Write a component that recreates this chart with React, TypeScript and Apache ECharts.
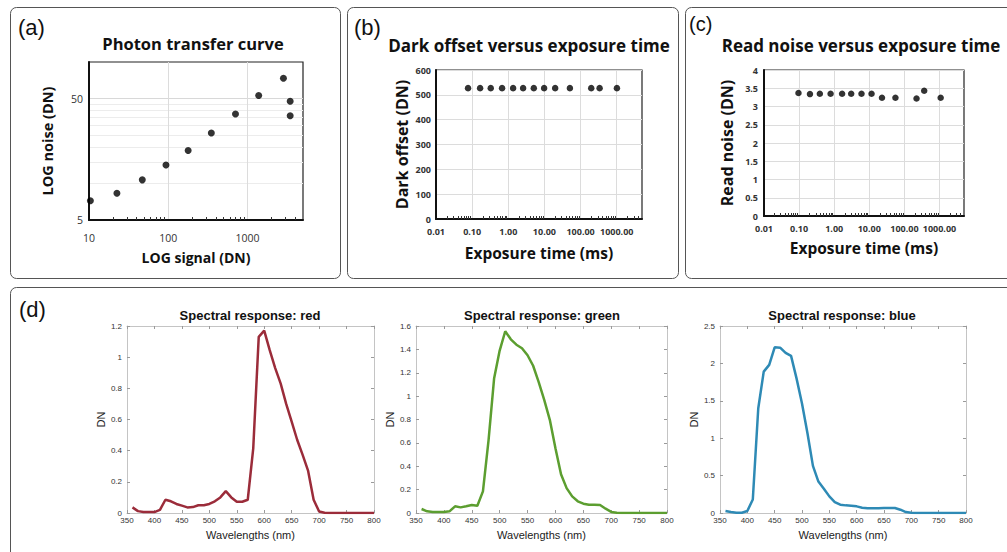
import React, { useEffect, useRef } from "react";
import * as echarts from "echarts";

// ---------- (a) Photon transfer curve ----------
const ptcSignal = [10.4, 22.5, 47, 93.5, 178, 349, 704, 1380, 2833, 3446, 3446];
const ptcNoise = [7.2, 8.3, 10.7, 14.2, 18.7, 26.0, 37.3, 52.9, 73.4, 47.5, 36.1];
const ptcXTicks = [10, 100, 1000];
const ptcYTicks = [5, 50];
const ptcYMinor = [10, 15, 20, 25, 30, 35, 40, 45];

// ---------- (b) Dark offset ----------
const darkExposure = [0.077, 0.166, 0.327, 0.673, 1.36, 2.57, 5.08, 9.8, 19.8, 50.6, 197, 336, 1012];
const darkOffset = [527, 527, 527, 527, 527, 527, 527, 527, 527, 527, 527, 527, 527];

// ---------- (c) Read noise ----------
const readExposure = [0.096, 0.204, 0.39, 0.79, 1.68, 3.05, 6.0, 11.6, 23, 55.6, 222, 367, 1082];
const readNoise = [3.37, 3.34, 3.35, 3.35, 3.35, 3.35, 3.35, 3.35, 3.24, 3.24, 3.22, 3.43, 3.24];

const expTicks = [0.01, 0.1, 1, 10, 100, 1000];

// ---------- (d) Spectral response ----------
const wavelengths = [
  360, 370, 380, 390, 400, 410, 420, 430, 440, 450, 460, 470, 480, 490, 500,
  510, 520, 530, 540, 550, 560, 570, 580, 590, 600, 610, 620, 630, 640, 650,
  660, 670, 680, 690, 700, 710, 720, 730, 740, 750, 760, 770, 780, 790, 800,
];
const redResponse = [
  0.036, 0.012, 0.006, 0.006, 0.006, 0.02, 0.085, 0.075, 0.058, 0.047, 0.036, 0.038, 0.05, 0.05, 0.058,
  0.075, 0.1, 0.14, 0.1, 0.072, 0.072, 0.085, 0.415, 1.13, 1.17, 1.045, 0.93, 0.83, 0.7, 0.586,
  0.47, 0.373, 0.27, 0.085, 0.01, 0.002, 0, 0, 0, 0, 0, 0, 0, 0, 0,
];
const greenResponse = [
  0.034, 0.014, 0.009, 0.008, 0.008, 0.014, 0.057, 0.048, 0.057, 0.068, 0.062, 0.185, 0.62, 1.15, 1.39,
  1.555, 1.486, 1.44, 1.41, 1.35, 1.26, 1.12, 0.966, 0.795, 0.554, 0.332, 0.213, 0.142, 0.1, 0.08,
  0.071, 0.071, 0.068, 0.037, 0.009, 0.003, 0, 0, 0, 0, 0, 0, 0, 0, 0,
];
const blueResponse = [
  0.027, 0.013, 0.004, 0.004, 0.027, 0.18, 1.4, 1.89, 1.98, 2.215, 2.21, 2.14, 2.1, 1.8, 1.465,
  1.066, 0.63, 0.42, 0.324, 0.222, 0.147, 0.111, 0.102, 0.098, 0.089, 0.071, 0.062, 0.062, 0.062, 0.067,
  0.067, 0.067, 0.044, 0.013, 0.004, 0, 0, 0, 0, 0, 0, 0, 0, 0, 0,
];

function minorTicks(fromExp: number, toExp: number, max: number): number[] {
  const out: number[] = [];
  for (let e = fromExp; e <= toExp; e++) {
    for (let k = 2; k <= 9; k++) {
      const v = Number((k * Math.pow(10, e)).toPrecision(6));
      if (v < max) out.push(v);
    }
  }
  return out;
}

const SANS = "'Open Sans', Roboto, sans-serif";
const ARIAL = "'Liberation Sans', Arial, sans-serif";

export default function App() {
  const ref = useRef<HTMLDivElement>(null);

  useEffect(() => {
    if (!ref.current) return;
    const chart = echarts.init(ref.current, undefined, { renderer: "svg" });

    const pair = (xs: number[], ys: number[]) => xs.map((x, i) => [x, ys[i]]);

    const boxGrid = { show: true, borderColor: "#222", borderWidth: 1.2, backgroundColor: "transparent" };

    const mainLogX = (
      gridIndex: number, min: number, max: number, ticks: number[], fmt: (v: number) => string,
      name: string, nameGap: number, nameSize: number, labelSize: number, labelMargin: number, labelWeight: string,
    ) => ({
      type: "log", logBase: 10, gridIndex, min, max, position: "bottom",
      axisLine: { show: true, onZero: false, lineStyle: { color: "#111", width: 2 } },
      axisTick: { show: false, customValues: ticks },
      axisLabel: { show: true, customValues: ticks, formatter: (v: number) => fmt(v), fontSize: labelSize, color: "#333", margin: labelMargin, fontFamily: SANS, fontWeight: labelWeight },
      splitLine: { show: true, lineStyle: { color: "#dcdcdc", width: 1 } },
      name, nameLocation: "middle", nameGap,
      nameTextStyle: { fontSize: nameSize, fontWeight: "bold", color: "#111", fontFamily: SANS },
    });
    const minorLogX = (gridIndex: number, min: number, max: number, ticks: number[]) => ({
      type: "log", logBase: 10, gridIndex, min, max, position: "bottom",
      axisLine: { show: false },
      axisTick: { show: true, inside: true, length: 3, customValues: ticks, lineStyle: { color: "#333", width: 1 } },
      axisLabel: { show: false },
      splitLine: { show: false },
    });

    const specX = (gridIndex: number, pos: string) => ({
      type: "value", gridIndex, position: pos, min: 350, max: 800, interval: 50,
      axisLine: { show: true, onZero: false, lineStyle: { color: "#c4c4c4", width: 1 } },
      axisTick: { show: true, inside: true, length: 3, lineStyle: { color: "#9a9a9a" } },
      axisLabel: pos === "bottom" ? { show: true, fontSize: 8, color: "#333", margin: 3, fontFamily: ARIAL } : { show: false },
      splitLine: { show: false },
      name: pos === "bottom" ? "Wavelengths (nm)" : "",
      nameLocation: "middle", nameGap: 16,
      nameTextStyle: { fontSize: 11, color: "#222", fontFamily: ARIAL },
    });
    const specY = (gridIndex: number, pos: string, max: number, interval: number) => ({
      type: "value", gridIndex, position: pos, min: 0, max, interval,
      axisLine: { show: true, onZero: false, lineStyle: { color: "#c4c4c4", width: 1 } },
      axisTick: { show: true, inside: true, length: 3, lineStyle: { color: "#9a9a9a" } },
      axisLabel: pos === "left" ? { show: true, fontSize: 8, color: "#333", margin: 5, fontFamily: ARIAL } : { show: false },
      splitLine: { show: false },
      name: pos === "left" ? "DN" : "",
      nameLocation: "middle", nameGap: 18,
      nameTextStyle: { fontSize: 11, color: "#222", fontFamily: ARIAL },
    });

    const fmt2 = (v: number) => v.toFixed(2);
    const fmtInt = (v: number) => String(Math.round(v));

    const panel = (x: number, y: number, w: number, h: number) => ({
      type: "rect", z: 0, silent: true,
      shape: { x, y, width: w, height: h, r: 6 },
      style: { fill: "none", stroke: "#555", lineWidth: 1 },
    });
    const label = (text: string, x: number, y: number, size: number) => ({
      type: "text", z: 10, silent: true, x, y,
      style: { text, fill: "#111", font: `${size}px ${ARIAL}`, verticalAlign: "top", align: "left" },
    });
    const title = (text: string, x: number, y: number, font: string) => ({
      type: "text", z: 10, silent: true, x, y,
      style: { text, fill: "#111", font, align: "center", verticalAlign: "middle" },
    });

    const option: any = {
      animation: false,
      backgroundColor: "#fff",
      graphic: [
        panel(10.5, 7.5, 330, 271),
        panel(347.5, 7.5, 331, 271),
        panel(685.5, 7.5, 330, 271),
        panel(10.5, 287.5, 1005, 275),
        label("(a)", 18, 16, 22),
        label("(b)", 354, 16, 22),
        label("(c)", 689, 14, 20),
        label("(d)", 19, 298, 22),
        title("Photon transfer curve", 193, 43, `bold 16.5px ${SANS}`),
        title("Dark offset versus exposure time", 529, 45, `bold 17px ${SANS}`),
        title("Read noise versus exposure time", 861, 45, `bold 17px ${SANS}`),
        title("Spectral response: red", 250, 315, `bold 13px ${ARIAL}`),
        title("Spectral response: green", 542, 315, `bold 13px ${ARIAL}`),
        title("Spectral response: blue", 842, 315, `bold 13px ${ARIAL}`),
      ],
      grid: [
        { left: 89, top: 62, width: 214, height: 158, ...boxGrid },
        { left: 436, top: 70, width: 206, height: 149, ...boxGrid },
        { left: 764, top: 70, width: 200, height: 146, ...boxGrid },
        { left: 127, top: 326, width: 247, height: 187 },
        { left: 416, top: 326, width: 251, height: 187 },
        { left: 720, top: 326, width: 246, height: 187 },
      ],
      xAxis: [
        mainLogX(0, 10, 5000, ptcXTicks, fmtInt, "LOG signal (DN)", 30, 14, 10.5, 12, "normal"),
        minorLogX(0, 10, 5000, minorTicks(1, 3, 5000)),
        mainLogX(1, 0.01, 5000, expTicks, fmt2, "Exposure time (ms)", 26, 15.5, 9, 8, "bold"),
        minorLogX(1, 0.01, 5000, minorTicks(-2, 3, 5000)),
        mainLogX(2, 0.01, 5000, expTicks, fmt2, "Exposure time (ms)", 24, 15.5, 9, 8, "bold"),
        minorLogX(2, 0.01, 5000, minorTicks(-2, 3, 5000)),
        specX(3, "bottom"),
        specX(3, "top"),
        specX(4, "bottom"),
        specX(4, "top"),
        specX(5, "bottom"),
        specX(5, "top"),
      ],
      yAxis: [
        {
          type: "log", logBase: 10, gridIndex: 0, min: 5, max: 100,
          axisLine: { show: true, onZero: false, lineStyle: { color: "#111", width: 2 } },
          axisTick: { show: false, customValues: ptcYTicks },
          axisLabel: { show: true, customValues: ptcYTicks, formatter: (v: number) => fmtInt(v), fontSize: 10.5, color: "#333", margin: 6, fontFamily: SANS },
          splitLine: { show: true, lineStyle: { color: "#d8d8d8" } },
          name: "LOG noise (DN)", nameLocation: "middle", nameGap: 34,
          nameTextStyle: { fontSize: 14.5, fontWeight: "bold", color: "#111", fontFamily: SANS },
        },
        {
          type: "log", logBase: 10, gridIndex: 0, min: 5, max: 100,
          axisLine: { show: false },
          axisTick: { show: false, customValues: ptcYMinor },
          axisLabel: { show: false },
          splitLine: { show: true, lineStyle: { color: "#ececec" } },
        },
        {
          type: "value", gridIndex: 1, min: 0, max: 600, interval: 100,
          axisLine: { show: true, onZero: false, lineStyle: { color: "#111", width: 2 } },
          axisTick: { show: false },
          axisLabel: { fontSize: 9, color: "#333", margin: 5, fontFamily: SANS, fontWeight: "bold" },
          splitLine: { show: true, lineStyle: { color: "#dcdcdc" } },
          name: "Dark offset (DN)", nameLocation: "middle", nameGap: 26,
          nameTextStyle: { fontSize: 16, fontWeight: "bold", color: "#111", fontFamily: SANS },
        },
        {
          type: "value", gridIndex: 2, min: 0, max: 4, interval: 0.5,
          axisLine: { show: true, onZero: false, lineStyle: { color: "#111", width: 2 } },
          axisTick: { show: false },
          axisLabel: { fontSize: 9, color: "#333", margin: 6, fontFamily: SANS, fontWeight: "bold" },
          splitLine: { show: true, lineStyle: { color: "#dcdcdc" } },
          name: "Read noise (DN)", nameLocation: "middle", nameGap: 29,
          nameTextStyle: { fontSize: 16, fontWeight: "bold", color: "#111", fontFamily: SANS },
        },
        specY(3, "left", 1.2, 0.2),
        specY(3, "right", 1.2, 0.2),
        specY(4, "left", 1.6, 0.2),
        specY(4, "right", 1.6, 0.2),
        specY(5, "left", 2.5, 0.5),
        specY(5, "right", 2.5, 0.5),
      ],
      series: [
        {
          type: "scatter", xAxisIndex: 0, yAxisIndex: 0, data: pair(ptcSignal, ptcNoise),
          symbol: "circle", symbolSize: 7, itemStyle: { color: "#000" }, silent: true,
        },
        {
          type: "scatter", xAxisIndex: 2, yAxisIndex: 2, data: pair(darkExposure, darkOffset),
          symbol: "circle", symbolSize: 6.5, itemStyle: { color: "#000" }, silent: true,
        },
        {
          type: "scatter", xAxisIndex: 4, yAxisIndex: 3, data: pair(readExposure, readNoise),
          symbol: "circle", symbolSize: 6.5, itemStyle: { color: "#000" }, silent: true,
        },
        {
          type: "line", xAxisIndex: 6, yAxisIndex: 4, data: pair(wavelengths, redResponse),
          showSymbol: false, symbol: "none", lineStyle: { color: "#9b2c3a", width: 2.5 }, silent: true,
        },
        {
          type: "line", xAxisIndex: 8, yAxisIndex: 6, data: pair(wavelengths, greenResponse),
          showSymbol: false, symbol: "none", lineStyle: { color: "#5c9e30", width: 2.5 }, silent: true,
        },
        {
          type: "line", xAxisIndex: 10, yAxisIndex: 8, data: pair(wavelengths, blueResponse),
          showSymbol: false, symbol: "none", lineStyle: { color: "#2e8ab5", width: 2.5 }, silent: true,
        },
      ],
    };

    chart.setOption(option);
    return () => chart.dispose();
  }, []);

  return (
    <div
      ref={ref}
      style={{ position: "fixed", left: 0, top: 0, width: 1007, height: 552, background: "#fff" }}
    />
  );
}
